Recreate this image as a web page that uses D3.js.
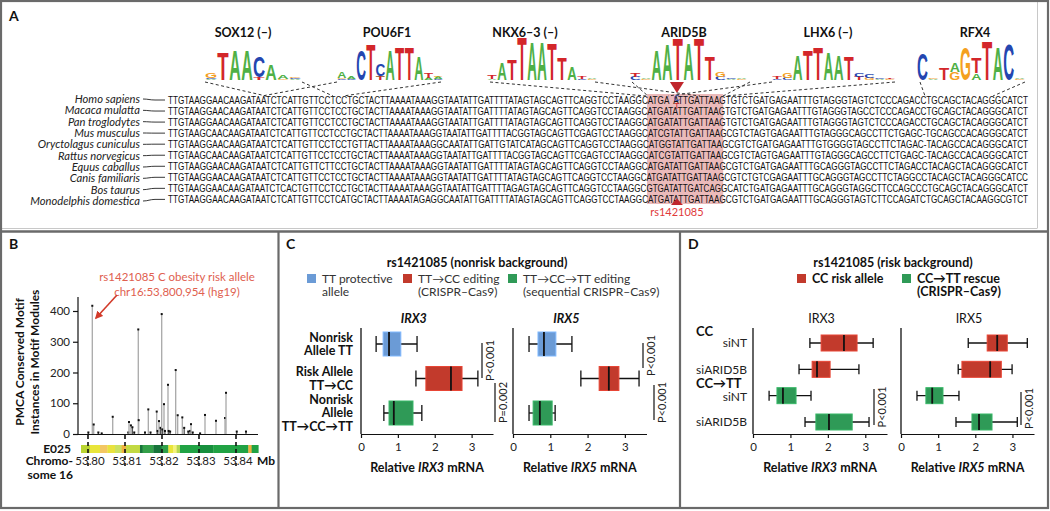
<!DOCTYPE html>
<html><head><meta charset="utf-8">
<script src="https://cdn.jsdelivr.net/npm/d3@7/dist/d3.min.js"></script>
<style>
html,body{margin:0;padding:0;background:#fff}
svg text{font-family:Lato,"Noto Sans","DejaVu Sans",sans-serif}
</style></head>
<body><svg id="fig" width="1050" height="511"></svg>
<script>
// ================= DATA =================
const species = ["Homo sapiens","Macaca mulatta","Pan troglodytes","Mus musculus","Oryctolagus cuniculus","Rattus norvegicus","Equus caballus","Canis familiaris","Bos taurus","Monodelphis domestica"];
const sequences = [
"TTGTAAGGAACAAGATAATCTCATTGTTCCTCCTGCTACTTAAAATAAAGGTAATATTGATTTTATAGTAGCAGTTCAGGTCCTAAGGCATGATATTGATTAAGTGTCTGATGAGAATTTGTAGGGTAGTCTCCCAGACCTGCAGCTACAGGGCATCT",
"TTGTAAGGAACAAGATAATCTCATTGTTCCTCCTGCTACTTAAAATAAAGGTAATATTGATTTTATAGTAGCAGTTCAGGTCCTAAGGCATGATATTGATTAAGTGTCTGATGAGAATTTGTAGGGTAGCCTCCCAGACCTGCAGCTACAGGGCATCT",
"TTGTAAGGAACAAGATAATCTCATTGTTCCTCCTGCTACTTAAAATAAAGGTAATATTGATTTTATAGTAGCAGTTCAGGTCCTAAGGCATGATATTGATTAAGTGTCTGATGAGAATTTGTAGGGTAGTCTCCCAGACCTGCAGCTACAGGGCATCT",
"TTGTAAGCAACAAGATAATCTCATTGTTCCTCCTGCTACTTAAAATAAAGGTAATATTGATTTTACGGTAGCAGTTCGAGTCCTAAGGCATCGTATTGATTAAGCGTCTAGTGAGAATTTGTAGGGCAGCCTTCTGAGC-TGCAGCCACAGGGCATCT",
"TTGTAAGGAACAAGATAATCTCATTGTTCCTCCTGTTACTTAAAATAAAGGCAATATTGATTGTATCATAGCAGTTCAGGTCCTAAGGCATGGTATTGATTAAGCGTCTGATGAGAATTTGTGGGGTAGCCTTCTAGAC-TACAGCCACAGGGCATCT",
"TTGTAAGCAACAAGATAATCTCATTGTTCCTCCTGCTACTTAAAATAAAGGTAATATTGATTTTACGGTAGCAGTTCGAGTCCTAAGGCATCGTATTGATTAAGCGTCTAGTGAGAATTTGTAGGGCAGCCTTCTGAGC-TACAGCCACAGGGCATCT",
"TTGTAAGGAACAAGATAATCTCATTGTTCTTCCTGCTACTTAAAATAAAGGTAATATTGATTTTATAGTAGCAGTTCAGGTCCTAAGGCATGATATTGATTAAGCGTCTGATGAGAATTTGCAGGGTAGCCTTCTAGACCTACAGCTACAGGGCATCT",
"TTGTAAGGAACAAGATAATCTCATTGTTCCTCCTGCTACTTAAAATAAAGGTAATATTGATTTTATAGTAGCAGTTCAGGTCCTAAGGCATGATATTGATTAAGCGTCTGTCGAGAATTTGCAGGGTAGCCTTCTAGGCCTACAGCTACAGGGCATCC",
"TTGTAAGGAACAAGATAATCTCACTGTTCCTCCTGCTACTTAAAATAAAGGTAATATTGATTTTAGAGTAGCAGTTCAGGTCCTAAGGCGTGATATTGATCAGGCATCTGATGAGAATTTGCAGGGTAGGCTTCCAGCCCTGCAGCTACAGGGCATCT",
"TTGTAAGGAACAAGATAATCTCATTGTTCCTCATGCTACTTAAAATAGAGGCAATATTGATTTTATAGTAGCAGTTCAGGTCCTAAGGCATGATATTGATTAAGCGTCTGATGAGAATTTGCAGGGTAGTCTTCCAGATCTGCAGCTACAAGGCGTCT"
];
const snpIndex = 93;            // rs1421085 position in the alignment
const coreRange = [88, 102];    // highlighted ARID5B core
const snpAlleles = ["C","T"];
const snpName = "rs1421085";

const motifNames = ["SOX12 (–)","POU6F1","NKX6–3 (–)","ARID5B","LHX6 (–)","RFX4"];
// each motif: list of columns; column = stack bottom->top of [base, bits]
const logoSOX12 = [[["A",0.05],["C",0.05],["G",0.22]],[["T",1.3]],[["A",1.4]],[["A",1.4]],[["T",0.12],["C",0.95]],[["A",0.7]],[["G",0.05],["A",0.2]],[["A",0.05],["C",0.05],["G",0.08]]];
const logoPOU6F1 = [[["C",0.05],["G",0.05],["A",0.3]],[["C",0.05],["A",0.1]],[["C",1.4]],[["T",1.63]],[["T",0.15],["A",0.05],["C",0.55]],[["A",1.4]],[["T",1.5]],[["T",1.5]],[["A",1.07]],[["A",0.1],["T",0.25]],[["C",0.05],["A",0.1],["G",0.05]]];
const logoNKX63 = [[["A",0.05],["T",0.15]],[["A",0.8]],[["T",0.95]],[["T",2.0]],[["A",1.75]],[["A",1.75]],[["T",1.7]],[["T",1.05]],[["A",0.6]],[["C",0.05],["T",0.1]],[["G",0.05],["A",0.05]]];
const logoARID5B = [[["C",0.15],["T",0.2]],[["G",0.05],["A",0.08]],[["A",1.4]],[["A",1.65]],[["T",1.95]],[["A",1.72]],[["T",1.95]],[["T",1.07]],[["C",0.15],["G",0.22]],[["A",0.05],["C",0.08]],[["G",0.05],["A",0.05]]];
const logoLHX6 = [[["C",0.05],["T",0.1]],[["C",0.1],["G",0.25]],[["A",1.16]],[["T",1.4]],[["T",1.55]],[["A",1.3]],[["A",1.16]],[["T",1.07]],[["T",0.15],["C",0.2]],[["G",0.1],["C",0.15]],[["A",0.05],["C",0.05]],[["G",0.05],["T",0.05]]];
const logoRFX4 = [[["C",1.25]],[["A",0.05],["G",0.05]],[["T",0.55]],[["G",0.35],["A",0.45]],[["G",1.5]],[["A",0.3],["T",0.75]],[["T",1.85]],[["A",1.55]],[["C",1.65]],[["G",0.05],["A",0.05]]];
const motifLogos = [logoSOX12, logoPOU6F1, logoNKX63, logoARID5B, logoLHX6, logoRFX4];

// Panel B
const bPositionsMb = [53.8001,53.80116,53.80154,53.8028,53.8037,53.80668,53.8109,53.81108,53.8116,53.8120,53.8125,53.81359,53.8137,53.8154,53.8163,53.8169,53.81857,53.8188,53.81919,53.8196,53.81992,53.8201,53.82054,53.8208,53.82162,53.8218,53.8222,53.8237,53.82424,53.82549,53.8260,53.8271,53.8276,53.82784,53.8283,53.8303,53.83162,53.83459,53.83703,53.8373,53.8402,53.8427];
const bCounts = [5,417,31,5,2,56,5,39,28,22,5,340,45,5,80,5,73,10,42,20,390,15,97,10,160,10,8,208,61,54,20,8,10,32,5,2,62,43,52,134,8,8];
const bXTicks = [53.80,53.81,53.82,53.83,53.84];
const bYTicks = [0,100,200,300,400];
const e025Starts = [53.79811,53.80054,53.80324,53.80523,53.80730,53.80910,53.81027,53.81405,53.81477,53.81766,53.81991,53.82171,53.82306,53.82396,53.82486,53.83027,53.83387,53.84333,53.84423];
const e025End = 53.84603;
const e025Colors = ["#b9d431","#e9e53a","#f3c763","#e8e23f","#cbe161","#f0b03f","#c2d943","#17743a","#34a049","#17743a","#2f9f4a","#e9e53a","#f4f27a","#b3d851","#21a244","#178f3d","#21a244","#f0b03f","#21a244"];

// Panel C  [whiskerLow, q1, median, q3, whiskerHigh]
const cRows = ["Nonrisk Allele TT","Risk Allele TT→CC","Nonrisk Allele TT→CC→TT"];
const cRowLines = [["Nonrisk","Allele TT"],["Risk Allele","TT→CC"],["Nonrisk","Allele","TT→CC→TT"]];
const cIRX3 = [[0.41,0.60,0.76,1.08,1.52],[1.49,1.76,2.44,2.74,3.17],[0.62,0.76,0.89,1.41,1.65]];
const cIRX5 = [[0.43,0.67,0.83,1.15,1.58],[1.82,2.31,2.57,2.84,3.38],[0.43,0.54,0.72,1.05,1.13]];
const cLegend = [["TT protective","allele"],["TT→CC editing","(CRISPR–Cas9)"],["TT→CC→TT editing","(sequential CRISPR–Cas9)"]];
const cPvalsIRX3 = ["P<0.001","P=0.002"];
const cPvalsIRX5 = ["P<0.001","P<0.001"];

// Panel D
const dRows = ["CC siNT","CC siARID5B","CC→TT siNT","CC→TT siARID5B"];
const dRowLabels = ["siNT","siARID5B","siNT","siARID5B"];
const dGroups = ["CC","CC→TT"];
const dIRX3 = [[1.52,1.82,2.43,2.78,3.21],[1.23,1.58,1.71,2.06,2.83],[0.43,0.64,0.80,1.15,1.55],[1.39,1.68,2.03,2.65,3.10]];
const dIRX5 = [[1.81,2.32,2.59,2.86,3.40],[1.54,1.64,2.40,2.70,2.99],[0.43,0.67,0.84,1.13,1.56],[1.48,1.91,2.10,2.45,3.13]];
const dLegend = [["CC risk allele"],["CC→TT rescue","(CRISPR–Cas9)"]];
const dPvals = ["P<0.001","P<0.001"];
const xTicks = [0,1,2,3];

// ================= DRAW =================
const svg = d3.select("#fig");
const baseCol = {A:"#4fb046",C:"#2446b0",G:"#f4a01f",T:"#d3262a"};
const BLUE="#6b9bd6", RED="#c23a2c", GREEN="#2f9a57";

// frame
const frame = svg.append("g").attr("fill","none");
frame.append("line").attr("x1",1037.5).attr("x2",1037.5).attr("y1",2).attr("y2",228).attr("stroke","#c8c8c8").attr("stroke-width",1);
frame.append("line").attr("x1",2).attr("x2",1037.5).attr("y1",228.5).attr("y2",228.5).attr("stroke","#c8c8c8").attr("stroke-width",1);
frame.append("rect").attr("x",1).attr("y",1).attr("width",1047).attr("height",507).attr("stroke","#6a6a6a").attr("stroke-width",2.2);
frame.append("line").attr("x1",1).attr("x2",1048).attr("y1",231.5).attr("y2",231.5).attr("stroke","#6a6a6a").attr("stroke-width",2.5);
frame.append("line").attr("x1",278.5).attr("x2",278.5).attr("y1",231).attr("y2",508).attr("stroke","#6a6a6a").attr("stroke-width",2.2);
frame.append("line").attr("x1",680).attr("x2",680).attr("y1",231).attr("y2",508).attr("stroke","#6a6a6a").attr("stroke-width",2.2);

function panelLetter(t,x,y){svg.append("text").attr("x",x).attr("y",y).attr("font-size",14).attr("font-weight","bold").attr("fill","#111").text(t);}
panelLetter("A",9,21); panelLetter("B",9,249); panelLetter("C",286,249); panelLetter("D",688,249);

// ---------- Panel A ----------
const gA = svg.append("g");
const seqX0 = 168, seqX1 = 1028;
const nChar = sequences[0].length;
const seqX = d3.scaleLinear().domain([0,nChar]).range([seqX0,seqX1]);
const rowY = d3.scalePoint().domain(species).range([100,199.4]);
const labY = d3.scalePoint().domain(species).range([99,201]);

// highlight box
gA.append("rect").attr("x",seqX(coreRange[0])).attr("y",94).attr("width",seqX(coreRange[1])-seqX(coreRange[0])).attr("height",110).attr("fill","#e6a9a9").attr("opacity",0.8);

species.forEach((s,i)=>{
  gA.append("text").attr("x",140).attr("y",labY(s)).attr("dy","0.35em").attr("text-anchor","end").attr("font-size",11.2).attr("font-style","italic").attr("fill","#222").text(s);
  const ly=labY(s), sy=rowY(s);
  gA.append("path").attr("d",`M143,${ly} C148,${ly} 150,${sy} 155,${sy} L165,${sy}`).attr("fill","none").attr("stroke","#222").attr("stroke-width",0.9);
  const seq = sequences[i];
  const t = gA.append("text").attr("x",seqX0).attr("y",sy).attr("dy","0.36em").attr("font-size",11.3).attr("fill","#111")
    .attr("textLength",seqX1-seqX0).attr("lengthAdjust","spacingAndGlyphs")
    .style("font-family","'Liberation Sans',Arial,sans-serif");
  if(i===0){
    t.append("tspan").text(seq.slice(0,snpIndex));
    t.append("tspan").attr("fill","none").text(seq[snpIndex]);
    t.append("tspan").text(seq.slice(snpIndex+1));
  } else t.text(seq);
});
const snpX = seqX(snpIndex+0.5);
gA.append("text").attr("x",snpX).attr("y",98).attr("dy","0.35em").attr("text-anchor","middle").attr("font-size",8.5).attr("fill","#2446b0").style("font-family","'Liberation Sans',Arial,sans-serif").text(snpAlleles[0]);
gA.append("text").attr("x",snpX).attr("y",106).attr("dy","0.35em").attr("text-anchor","middle").attr("font-size",8.5).attr("fill","#d3262a").style("font-family","'Liberation Sans',Arial,sans-serif").text(snpAlleles[1]);
gA.append("path").attr("d",`M${snpX-7},82 L${snpX+7},82 L${snpX},93 Z`).attr("fill","#c0262c");
gA.append("path").attr("d",`M${snpX-6},205 L${snpX+6},205 L${snpX},198.5 Z`).attr("fill","#c0262c");
gA.append("text").attr("x",snpX).attr("y",212).attr("dy","0.35em").attr("text-anchor","middle").attr("font-size",11).attr("fill","#e03a3a").text(snpName);

// motif logos
const logoLayout = [[205,301],[337,443],[487,597],[630,747],[772,895],[917,1025]];
const titleX = [243,387,525,684,828,975];
const logoLinks = [[[205,266],[302,333]],[[337,262],[441,343]],[[490,646],[595,700]],[[632,648],[750,723]],[[772,668],[895,725]],[[920,925],[1025,993]]];
const logoBase = 80;
const bitsY = d3.scaleLinear().domain([0,2]).range([0,43.5]);
const ink = {A:68,C:64,G:69,T:58};
motifLogos.forEach((cols,m)=>{
  gA.append("text").attr("x",titleX[m]).attr("y",36.5).attr("text-anchor","middle").attr("font-size",12.5).attr("font-weight","bold").attr("fill","#111").text(motifNames[m]);
  const xs = d3.scaleBand().domain(d3.range(cols.length)).range(logoLayout[m]);
  const w = xs.bandwidth();
  cols.forEach((stack,i)=>{
    let y = logoBase;
    stack.forEach(([ch,bits])=>{
      const h = bitsY(bits);
      gA.append("text").attr("transform",`translate(${xs(i)+w/2},${y}) scale(${(w*0.9)/ink[ch]},${h/72})`)
        .attr("text-anchor","middle").attr("fill",baseCol[ch])
        .style("font-family","'Liberation Sans',Arial,sans-serif").style("font-weight","bold").style("font-size","100px").text(ch);
      y -= h;
    });
  });
  logoLinks[m].forEach(([xt,xb])=>{
    gA.append("line").attr("x1",xt).attr("y1",82).attr("x2",xb).attr("y2",96).attr("stroke","#333").attr("stroke-width",1).attr("stroke-dasharray","3,2.5");
  });
});

// ---------- Panel B ----------
const gB = svg.append("g");
const xB = d3.scaleLinear().domain([53.80,53.84]).range([88,236]);
const yB = d3.scaleLinear().domain([0,445.5]).range([434,297]);
gB.append("text").attr("x",177).attr("y",277).attr("dy","0.35em").attr("text-anchor","middle").attr("font-size",11.5).attr("fill","#e0604f").text("rs1421085 C obesity risk allele");
gB.append("text").attr("x",177).attr("y",292).attr("dy","0.35em").attr("text-anchor","middle").attr("font-size",11.5).attr("fill","#e0604f").text("chr16:53,800,954 (hg19)");
svg.append("defs").append("marker").attr("id","ah").attr("viewBox","0 0 10 10").attr("refX",8).attr("refY",5).attr("markerWidth",5).attr("markerHeight",5).attr("orient","auto")
  .append("path").attr("d","M0,0 L10,5 L0,10 Z").attr("fill","#d23a2a");
gB.append("line").attr("x1",117).attr("y1",295).attr("x2",96).attr("y2",318).attr("stroke","#d23a2a").attr("stroke-width",1.6).attr("marker-end","url(#ah)");

bPositionsMb.forEach((p,i)=>{
  const v=bCounts[i];
  gB.append("line").attr("x1",xB(p)).attr("x2",xB(p)).attr("y1",yB(0)).attr("y2",yB(v)).attr("stroke",v>25?"#a8a8a8":"#555").attr("stroke-width",1.3);
  gB.append("rect").attr("x",xB(p)-1).attr("y",yB(v)-1).attr("width",2).attr("height",2).attr("fill","#111");
});
const yAxB = gB.append("g").attr("transform","translate(78,0)").call(d3.axisLeft(yB).tickValues(bYTicks).tickSize(5).tickSizeOuter(0));
yAxB.select(".domain").attr("stroke","#111").attr("stroke-width",1.2);
yAxB.selectAll(".tick line").attr("stroke","#111").attr("stroke-width",1.2);
yAxB.selectAll(".tick text").attr("font-size",11.5).attr("fill","#222").style("font-family","Lato,sans-serif");
yAxB.select(".domain").attr("d","M0,297V434");
gB.append("line").attr("x1",78).attr("x2",258).attr("y1",434.5).attr("y2",434.5).attr("stroke","#111").attr("stroke-width",1.2);
[["PMCA Conserved Motif",20],["Instances in Motif Modules",35]].forEach(([t,x])=>{
  gB.append("text").attr("transform",`translate(${x},362) rotate(-90)`).attr("text-anchor","middle").attr("dy","0.35em").attr("font-size",12).attr("font-weight","bold").attr("fill","#111").text(t);
});
// E025
e025Starts.forEach((s,i)=>{
  const e = i<e025Starts.length-1?e025Starts[i+1]:e025End;
  gB.append("rect").attr("x",xB(s)).attr("y",445).attr("width",xB(e)-xB(s)+0.3).attr("height",8).attr("fill",e025Colors[i]);
});
gB.append("text").attr("x",71).attr("y",449).attr("dy","0.35em").attr("text-anchor","end").attr("font-size",12).attr("font-weight","bold").attr("fill","#111").text("E025");
bXTicks.forEach(t=>{
  gB.append("line").attr("x1",xB(t)).attr("x2",xB(t)).attr("y1",435).attr("y2",466).attr("stroke","#111").attr("stroke-width",1.6).attr("stroke-dasharray","4,3");
  gB.append("text").attr("x",xB(t)+2).attr("y",461).attr("dy","0.35em").attr("text-anchor","middle").attr("font-size",11.5).attr("fill","#222").text(d3.format(".2f")(t));
});
gB.append("text").attr("x",257).attr("y",461).attr("dy","0.35em").attr("font-size",12).attr("font-weight","bold").attr("fill","#111").text("Mb");
gB.append("text").attr("x",73).attr("y",461).attr("dy","0.35em").attr("text-anchor","end").attr("font-size",12).attr("font-weight","bold").attr("fill","#111").text("Chromo-");
gB.append("text").attr("x",73).attr("y",475).attr("dy","0.35em").attr("text-anchor","end").attr("font-size",12).attr("font-weight","bold").attr("fill","#111").text("some 16");

// ---------- box plot helper ----------
function boxes(g, rows, data, colors, x, y, boxH, capH){
  data.forEach((d,i)=>{
    const yc=y(rows[i]); const [wl,q1,md,q3,wh]=d;
    g.append("line").attr("x1",x(wl)).attr("x2",x(wh)).attr("y1",yc).attr("y2",yc).attr("stroke","#111").attr("stroke-width",1.3);
    [wl,wh].forEach(v=>g.append("line").attr("x1",x(v)).attr("x2",x(v)).attr("y1",yc-capH/2).attr("y2",yc+capH/2).attr("stroke","#111").attr("stroke-width",1.3));
    g.append("rect").attr("x",x(q1)).attr("y",yc-boxH/2).attr("width",x(q3)-x(q1)).attr("height",boxH).attr("fill",colors[i]).attr("stroke",d3.color(colors[i]).brighter(0.5)).attr("stroke-width",1);
    g.append("line").attr("x1",x(md)).attr("x2",x(md)).attr("y1",yc-boxH/2).attr("y2",yc+boxH/2).attr("stroke","#111").attr("stroke-width",1.8);
  });
}
function xAxis(g, x, yPos, yTop, label){
  const ax = g.append("g").attr("transform",`translate(0,${yPos})`).call(d3.axisBottom(x).tickValues(xTicks).tickSize(4).tickSizeOuter(0).tickFormat(d3.format("d")));
  ax.select(".domain").attr("stroke","#111").attr("stroke-width",1.2);
  ax.selectAll(".tick line").attr("stroke","#111").attr("stroke-width",1.2);
  ax.selectAll(".tick text").attr("font-size",11.5).attr("fill","#222").attr("dy","0.9em").style("font-family","Lato,sans-serif");
  g.append("line").attr("x1",x.range()[0]).attr("x2",x.range()[0]).attr("y1",yTop).attr("y2",yPos).attr("stroke","#111").attr("stroke-width",1.3);
  const t = g.append("text").attr("x",(x.range()[0]+x.range()[1])/2).attr("y",472).attr("text-anchor","middle").attr("font-size",12.5).attr("font-weight","bold").attr("fill","#111");
  t.append("tspan").text("Relative ");
  t.append("tspan").attr("font-style","italic").text(label);
  t.append("tspan").text(" mRNA");
}
function pBracket(g,x,y1,y2,label){
  g.append("line").attr("x1",x).attr("x2",x).attr("y1",y1).attr("y2",y2).attr("stroke","#111").attr("stroke-width",1.2);
  g.append("text").attr("transform",`translate(${x+8},${(y1+y2)/2}) rotate(-90)`).attr("text-anchor","middle").attr("dy","0.35em").attr("font-size",11).attr("fill","#222").text(label);
}

// ---------- Panel C ----------
const gC = svg.append("g");
gC.append("text").attr("x",477).attr("y",267).attr("text-anchor","middle").attr("font-size",12.5).attr("font-weight","bold").attr("fill","#111").text("rs1421085 (nonrisk background)");
const cLegX = [307,403,508], cCols=[BLUE,RED,GREEN];
cLegend.forEach((lines,i)=>{
  gC.append("rect").attr("x",cLegX[i]).attr("y",274).attr("width",9).attr("height",9).attr("fill",cCols[i]);
  lines.forEach((l,j)=>gC.append("text").attr("x",cLegX[i]+15).attr("y",278.5+j*13.5).attr("dy","0.35em").attr("font-size",12).attr("fill","#333").text(l));
});
const yC = d3.scalePoint().domain(cRows).range([344,413]);
const xC3 = d3.scaleLinear().domain([0,3.58]).range([361,493]);
const xC5 = d3.scaleLinear().domain([0,3.58]).range([513,646.5]);
[["IRX3",xC3,cIRX3],["IRX5",xC5,cIRX5]].forEach(([name,x,data])=>{
  gC.append("text").attr("x",x(1.43)).attr("y",323).attr("text-anchor","middle").attr("font-size",12.5).attr("font-weight","bold").attr("font-style","italic").attr("fill","#111").text(name);
  xAxis(gC,x,434,328,name);
  boxes(gC,cRows,data,cCols,x,yC,24,16);
});
cRowLines.forEach((lines,i)=>{
  const n=lines.length;
  lines.forEach((l,j)=>gC.append("text").attr("x",353).attr("y",yC(cRows[i])+(j-(n-1)/2)*13.5).attr("dy","0.35em").attr("text-anchor","end").attr("font-size",12.5).attr("font-weight","bold").attr("fill","#111").text(l));
});
pBracket(gC,482,343,378,cPvalsIRX3[0]);
pBracket(gC,495,383,422,cPvalsIRX3[1]);
pBracket(gC,643,343,368,cPvalsIRX5[0]);
pBracket(gC,654,385,420,cPvalsIRX5[1]);

// ---------- Panel D ----------
const gD = svg.append("g");
gD.append("text").attr("x",893).attr("y",267).attr("text-anchor","middle").attr("font-size",12.5).attr("font-weight","bold").attr("fill","#111").text("rs1421085 (risk background)");
const dLegX=[797,902], dLegCols=[RED,GREEN];
dLegend.forEach((lines,i)=>{
  gD.append("rect").attr("x",dLegX[i]).attr("y",274).attr("width",9).attr("height",9).attr("fill",dLegCols[i]);
  lines.forEach((l,j)=>gD.append("text").attr("x",dLegX[i]+15).attr("y",278.5+j*13.5).attr("dy","0.35em").attr("font-size",12.5).attr("font-weight","bold").attr("fill","#111").text(l));
});
const yD = d3.scalePoint().domain(dRows).range([343,422]);
const dCols=[RED,RED,GREEN,GREEN];
const xD3 = d3.scaleLinear().domain([0,3.58]).range([753,887]);
const xD5 = d3.scaleLinear().domain([0,3.58]).range([901,1034]);
[["IRX3",xD3,dIRX3],["IRX5",xD5,dIRX5]].forEach(([name,x,data])=>{
  gD.append("text").attr("x",x(1.83)).attr("y",323).attr("text-anchor","middle").attr("font-size",12.5).attr("fill","#111").text(name);
  xAxis(gD,x,434,328,name);
  boxes(gD,dRows,data,dCols,x,yD,16,10);
});
dRowLabels.forEach((l,i)=>gD.append("text").attr("x",747).attr("y",yD(dRows[i])+(i===2?1.5:0)).attr("dy","0.35em").attr("text-anchor","end").attr("font-size",12).attr("fill","#222").text(l));
gD.append("text").attr("x",696).attr("y",331).attr("dy","0.35em").attr("font-size",13).attr("font-weight","bold").attr("fill","#111").text(dGroups[0]);
gD.append("text").attr("x",696).attr("y",383.5).attr("dy","0.35em").attr("font-size",13).attr("font-weight","bold").attr("fill","#111").text(dGroups[1]);
pBracket(gD,874,389,425,dPvals[0]);
pBracket(gD,1021,392,425,dPvals[1]);
</script></body></html>
